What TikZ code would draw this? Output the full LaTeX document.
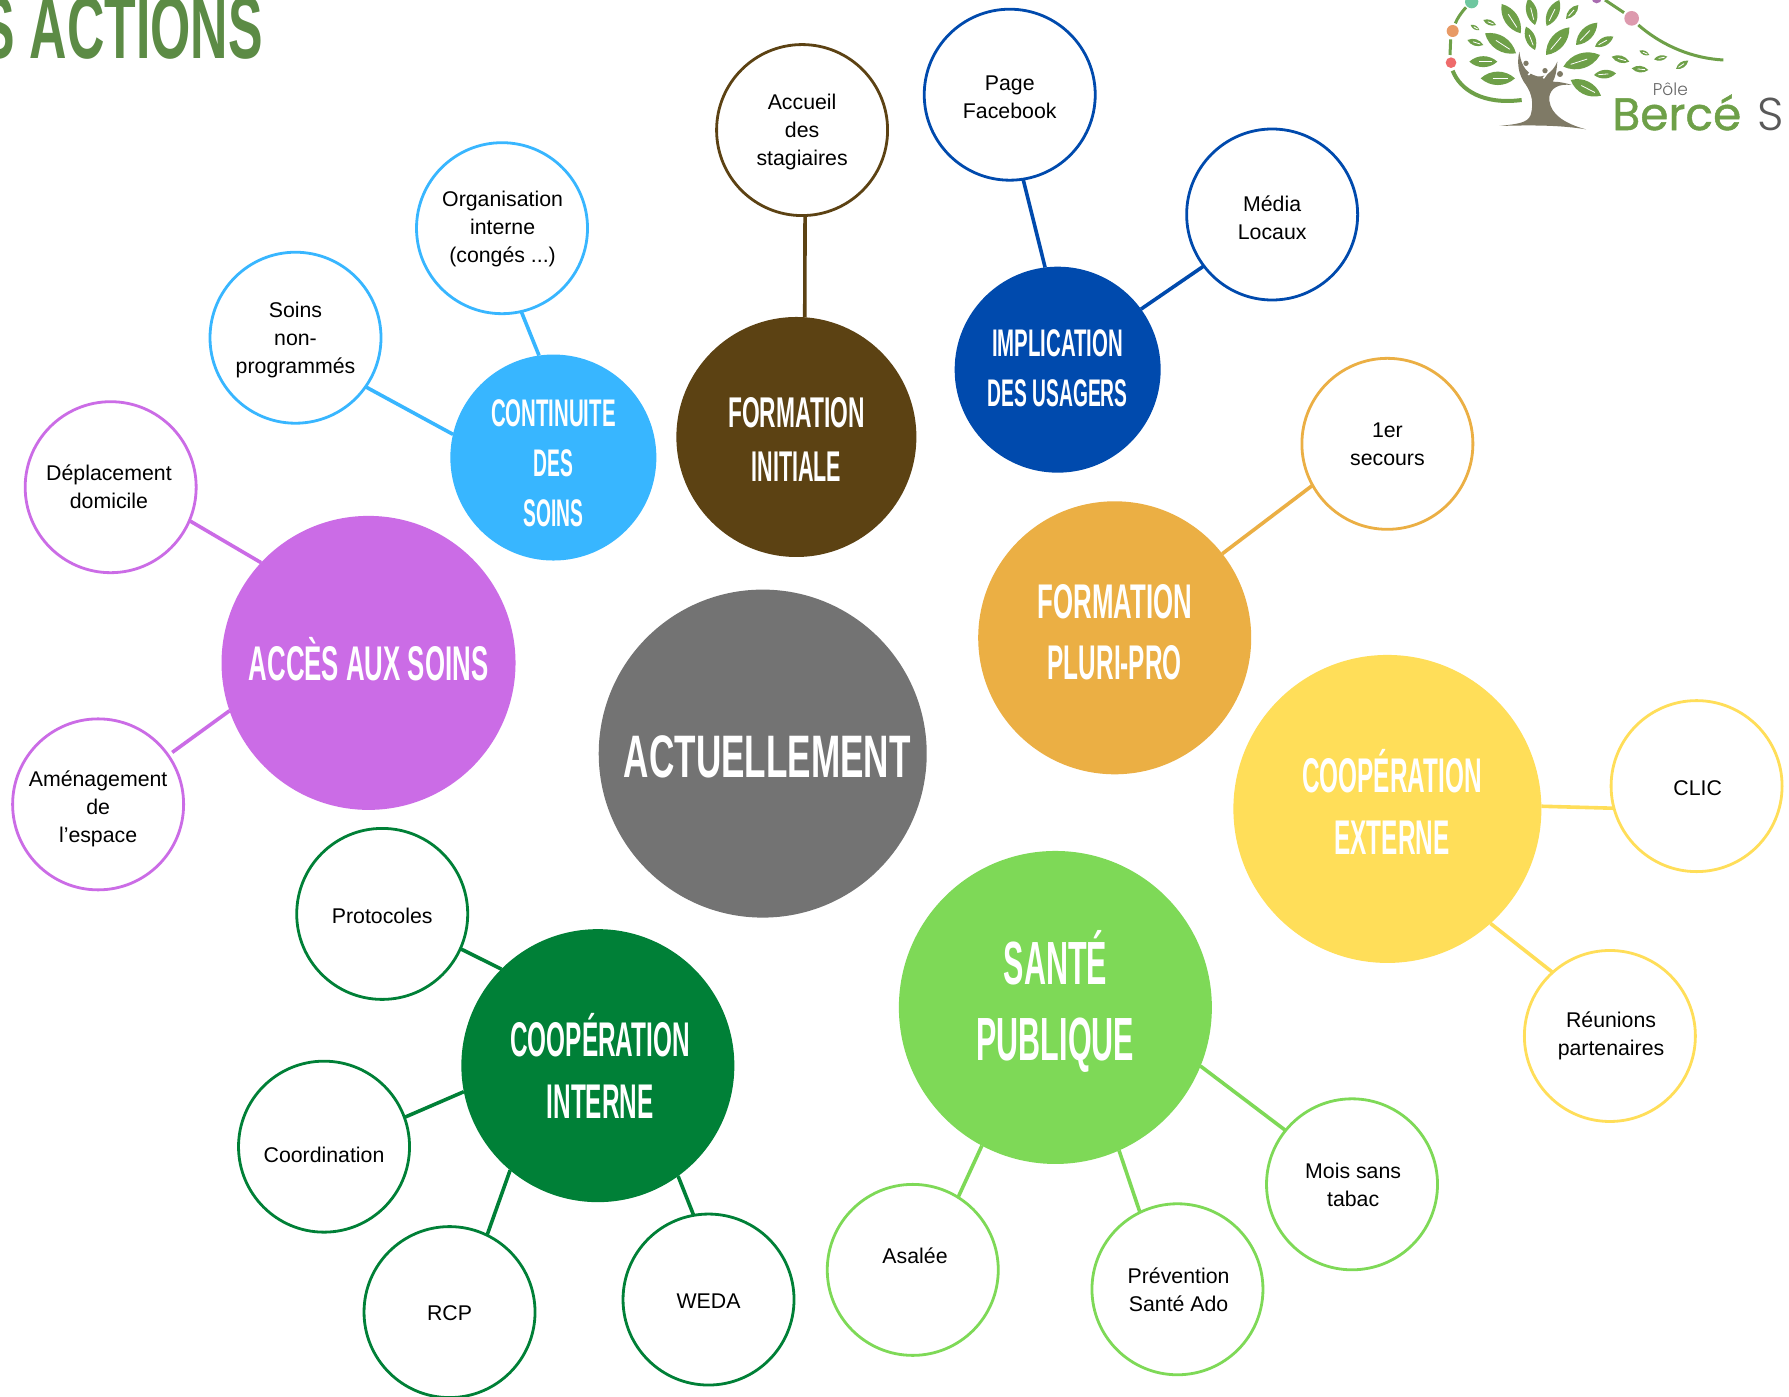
\documentclass[tikz,border=0pt]{standalone}
\usepackage{fontspec}
\usetikzlibrary{calc}
\setmainfont{Liberation Sans}
\newfontfamily\bebas[FakeStretch=0.5]{Liberation Sans Bold}
\newfontfamily\bebasc[FakeStretch=0.53]{Liberation Sans Bold}
\newfontfamily\bebasb[FakeStretch=0.585]{Liberation Sans Bold}
\newfontfamily\logofont[FakeBold=1]{Poppins}
\newfontfamily\logolight{Poppins Light}
\definecolor{cgray}{HTML}{737373}
\definecolor{cpurple}{HTML}{CB6CE6}
\definecolor{cblue}{HTML}{38B6FF}
\definecolor{cbrown}{HTML}{5C4213}
\definecolor{cnavy}{HTML}{004AAD}
\definecolor{corange}{HTML}{EBAF44}
\definecolor{cyellow}{HTML}{FFDE59}
\definecolor{clime}{HTML}{7ED957}
\definecolor{cgreen}{HTML}{008037}
\definecolor{ctitle}{HTML}{5C8B45}
\definecolor{leafc}{HTML}{6EA048}
\definecolor{trunkc}{HTML}{7F7A66}
\definecolor{dota}{HTML}{6FC7A0}
\definecolor{dotb}{HTML}{E89A66}
\definecolor{dotc}{HTML}{EE6B6B}
\definecolor{dotd}{HTML}{DD9AAE}
\definecolor{dote}{HTML}{A86CB0}
\tikzset{
  hub/.style={circle,fill=#1,inner sep=0pt,outer sep=0pt},
  sat/.style={circle,draw=#1,line width=2.8pt,fill=white,minimum size=171pt,inner sep=0pt,outer sep=0pt},
  satlab/.style={font=\fontsize{21.3}{28}\selectfont,align=center,inner sep=0pt,text=black},
  hublab/.style={text=white,align=center,inner sep=0pt},
  link/.style={line width=3.6pt,draw=#1},
}
% \hubc{name}{x}{y}{diameter}{colour}{tx}{ty}{size}{leading}{text}
\newcommand\hubc[9]{\node[hub=#5,minimum size=#4pt] (#1) at (#2,#3) {};
  \def\tmpa{#1}\def\tmpb{#6}\def\tmpc{#7}\def\tmpd{#8}\def\tmpe{#9}\hubcrest}
\newcommand\hubcrest[1]{\node[hublab,font=\bebas\fontsize{\tmpd}{\tmpe}\selectfont] (\tmpa t) at (\tmpb,\tmpc) {#1};}
\newcommand\satc[7]{\node[sat=#4] (#1) at (#2,#3) {};
  \node[satlab] (#1t) at (#5,#6) {#7};}
\newcommand\leaf[4]{\fill[leafc] (#1,#2) to[bend left=42] (#3,#4) to[bend left=42] (#1,#2);
  \draw[white,line width=.8pt] ($(#1,#2)!.35!(#3,#4)$) -- ($(#1,#2)!.8!(#3,#4)$);}
\begin{document}
\begin{tikzpicture}[x=1.14094pt,y=-1.14094pt]
\useasboundingbox (0pt,0pt) rectangle (1789pt,-1397pt);
\clip (0pt,0pt) rectangle (1789pt,-1397pt);
\fill[white] (0pt,0pt) rectangle (1789pt,-1397pt);

% title
\node[anchor=base east,inner sep=0pt,text=ctitle,font=\bebasb\fontsize{88.5}{90}\selectfont] (title) at (230.5,51.7) {S ACTIONS};

% logo
\begin{scope}[shift={(1420pt,0pt)},x=0.33333pt,y=-0.33333pt]
  \draw[leafc,line width=3pt] (138,22) .. controls (122,40) and (112,55) .. (106,70);
  \draw[leafc,line width=3pt] (92,118) -- (90,165);
  \draw[leafc,line width=4pt] (98,212) .. controls (120,270) and (190,315) .. (305,300);
  \draw[leafc,line width=3pt] (555,0) -- (612,38);
  \draw[leafc,line width=3pt] (655,75) .. controls (730,140) and (820,175) .. (910,180);
  \fill[dota] (155,5) circle (20);
  \fill[dotb] (98,93) circle (18);
  \fill[dotc] (93,188) circle (16);
  \fill[dotd] (635,55) circle (22);
  \fill[dote] (530,-5) circle (15);
  \fill[trunkc] (238,378) .. controls (290,372) and (322,370) .. (332,345)
    .. controls (342,310) and (335,280) .. (318,255)
    .. controls (295,225) and (290,190) .. (298,155)
    .. controls (302,190) and (315,215) .. (340,225)
    .. controls (370,240) and (400,215) .. (412,185)
    .. controls (410,215) and (405,235) .. (398,245)
    .. controls (420,245) and (440,250) .. (455,255)
    .. controls (415,250) and (392,265) .. (388,290)
    .. controls (385,325) and (410,365) .. (498,388)
    .. controls (420,375) and (330,375) .. (238,378) -- cycle;
  \draw[white,line width=1.6pt] (345,200) -- (325,225) (392,205) -- (370,235);
  \fill[trunkc] (318,190) circle (8) (345,242) circle (8) (375,212) circle (8) (420,222) circle (9);
  \leaf{190}{60}{228}{75}
  \leaf{152}{75}{178}{90}
  \leaf{142}{120}{190}{135}
  \leaf{195}{100}{288}{160}
  \leaf{148}{185}{232}{185}
  \leaf{182}{235}{285}{235}
  \leaf{245}{12}{302}{100}
  \leaf{325}{-5}{345}{75}
  \leaf{418}{0}{380}{78}
  \leaf{475}{15}{438}{57}
  \leaf{318}{80}{345}{150}
  \leaf{448}{82}{378}{165}
  \leaf{532}{68}{468}{135}
  \leaf{580}{110}{525}{140}
  \leaf{540}{165}{430}{200}
  \leaf{588}{220}{522}{225}
  \leaf{452}{240}{543}{287}
  \leaf{575}{170}{628}{185}
  \leaf{635}{205}{685}{210}
  \leaf{658}{152}{688}{165}
  \leaf{702}{178}{742}{170}
  \leaf{805}{182}{768}{207}
\end{scope}
\node[anchor=base,inner sep=0pt,text=black!60,font=\logolight\fontsize{17}{17}\selectfont] (pole) at (1464,84) {Pôle};
\node[anchor=base west,inner sep=0pt,text=leafc,font=\logofont\fontsize{45.5}{46}\selectfont] (berce) at (1413,114) {Bercé};
\node[anchor=base west,inner sep=0pt,text=black!65,font=\logolight\fontsize{46}{46}\selectfont] (bs) at (1540,114) {S};

% hubs
\node[hub=cgray,minimum size=328pt] (act) at (668.5,660.5) {};
\node[hublab,font=\bebasb\fontsize{60}{70}\selectfont] (actt) at (672.5,663.5) {ACTUELLEMENT};
\hubc{acces}{323}{581}{294}{cpurple}{323}{578}{48.7}{52}{\bebasc ACCÈS AUX SOINS}
\hubc{cont}{485}{401}{206}{cblue}{485}{406}{38.5}{49.8}{\bebasc CONTINUITE\\DES\\SOINS}
\hubc{finit}{698}{383}{240}{cbrown}{698}{385}{43}{53.6}{\bebasc FORMATION\\INITIALE}
\hubc{impl}{927}{324}{206}{cnavy}{927}{323}{38.5}{50.2}{\bebasc IMPLICATION\\DES USAGERS}
\hubc{fpluri}{977}{559}{273}{corange}{977}{554}{48.7}{61.6}{\bebasc FORMATION\\PLURI-PRO}
\hubc{fext}{1216}{709}{308}{cyellow}{1220}{703}{48.7}{61.6}{COOPÉRATION\\EXTERNE}
\hubc{sante}{925}{883}{313}{clime}{925}{878}{61}{76}{SANTÉ\\PUBLIQUE}
\hubc{cint}{524}{934}{273}{cgreen}{526}{934}{48.7}{61.6}{COOPÉRATION\\INTERNE}

% satellites
\satc{accueil}{703}{114}{cbrown}{703}{116}{Accueil\\des\\stagiaires}
\satc{page}{885}{83}{cnavy}{885}{85.5}{Page\\Facebook}
\satc{media}{1115}{188}{cnavy}{1115}{190.5}{Média\\Locaux}
\satc{orga}{440}{200}{cblue}{440.5}{201}{Organisation\\interne\\(congés ...)}
\satc{soins}{259}{296}{cblue}{259}{298}{Soins\\non-\\programmés}
\satc{depl}{97}{427}{cpurple}{95.5}{427}{Déplacement\\domicile}
\satc{amen}{86}{705}{cpurple}{86}{709}{Aménagement\\de\\l'espace}
\satc{secours}{1216}{389}{corange}{1216}{389.5}{1er\\secours}
\satc{clic}{1487}{689}{cyellow}{1488}{691}{CLIC}
\satc{reun}{1411}{908}{cyellow}{1412}{908}{Réunions\\partenaires}
\satc{mois}{1185}{1038}{clime}{1186}{1038.5}{Mois sans\\tabac}
\satc{prev}{1032}{1130}{clime}{1033}{1130}{Prévention\\Santé Ado}
\satc{asalee}{800}{1113}{clime}{802}{1101}{Asalée}
\satc{weda}{621}{1139}{cgreen}{621}{1140}{WEDA}
\satc{rcp}{394}{1150}{cgreen}{394}{1151}{RCP}
\satc{coord}{284}{1005}{cgreen}{284}{1012}{Coordination}
\satc{proto}{335}{801}{cgreen}{335}{803}{Protocoles}

% connectors
\draw[link=cbrown] (accueil.-88) -- (finit.86);
\draw[link=cnavy] (page.-81) -- (impl.97);
\draw[link=cnavy] (media.217.7) -- (impl.36);
\draw[link=cblue] (orga.-77) -- (cont.98);
\draw[link=cblue] (soins.-35.6) -- (cont.167);
\draw[link=cpurple] (depl.-23) -- (acces.137.5);
\draw[link=cpurple,shorten <=5pt] (amen.35) -- (acces.199.6);
\draw[link=corange] (secours.209.6) -- (fpluri.38.6);
\draw[link=cyellow] (clic.195.6) -- (fext.1.7);
\draw[link=cyellow] (reun.132.9) -- (fext.-48.9);
\draw[link=clime] (mois.141) -- (sante.-22.8);
\draw[link=clime] (prev.116.6) -- (sante.-66.8);
\draw[link=clime] (asalee.58.8) -- (sante.-118.8);
\draw[link=cgreen] (weda.100) -- (cint.-54);
\draw[link=cgreen] (rcp.64.4) -- (cint.-130);
\draw[link=cgreen] (coord.20.8) -- (cint.191);
\draw[link=cgreen] (proto.-24.9) -- (cint.135.7);
\end{tikzpicture}
\end{document}
